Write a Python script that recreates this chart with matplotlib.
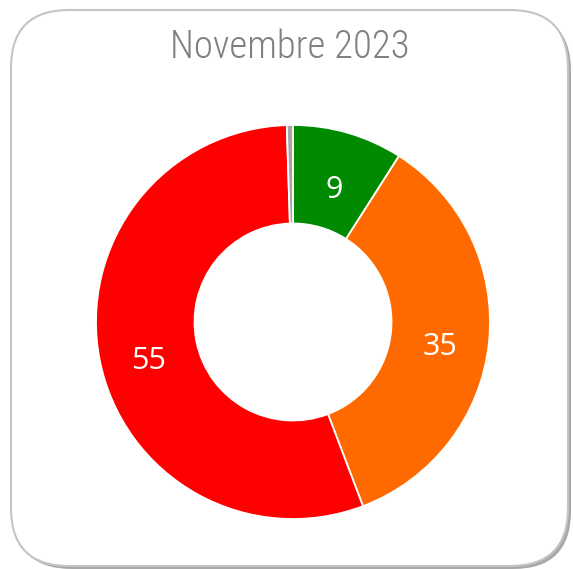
import numpy as np
import matplotlib
matplotlib.use('Agg')
import matplotlib.pyplot as plt
from matplotlib import font_manager
from matplotlib.patches import FancyBboxPatch

# données
title = 'Novembre 2023'
values = [9, 35, 55, 0.5]
labels = ['9', '35', '55', '']
colors = ['#008a00', '#ff6a00', '#ff0000', '#a6a6a6']

installed = {f.name for f in font_manager.fontManager.ttflist}
narrow = [n for n in ['Liberation Sans Narrow', 'Roboto Condensed', 'Open Sans Condensed',
                      'Noto Sans Condensed', 'DejaVu Sans Condensed', 'Roboto']
          if n in installed]
title_font = narrow[0] if narrow else 'DejaVu Sans'

W, H = 573, 569
fig = plt.figure(figsize=(W / 100, H / 100), dpi=100)

# fond : carte arrondie avec ombre (coordonnées en pixels)
bg = fig.add_axes([0, 0, 1, 1])
bg.set_xlim(0, W)
bg.set_ylim(H, 0)
bg.axis('off')
shadow = FancyBboxPatch((11 + 58 + 3, 10 + 58 + 3), 557 - 116, 556 - 116,
                        boxstyle='round,pad=58', facecolor='#a8a8a8',
                        edgecolor='none', zorder=1)
card = FancyBboxPatch((11 + 58, 10 + 58), 557 - 116, 556 - 116,
                      boxstyle='round,pad=58', facecolor='white',
                      edgecolor='#c4c4c4', linewidth=1.5, zorder=2)
bg.add_patch(shadow)
bg.add_patch(card)

t = bg.text(290, 47, title, ha='center', va='center', fontsize=30,
            color='#808080', family=[title_font, 'DejaVu Sans'],
            fontweight='light', zorder=3)

# ajuste la taille du titre pour une largeur d'environ 240 px
fig.canvas.draw()
w = t.get_window_extent().width
t.set_fontsize(min(34, 30 * 240 / w))

# anneau
cx, cy, r = 293, 322, 197
ax = fig.add_axes([(cx - r) / W, (H - cy - r) / H, 2 * r / W, 2 * r / H])
wedges, texts = ax.pie(values, labels=labels, colors=colors, startangle=90,
                       counterclock=False, radius=1, labeldistance=0.75,
                       wedgeprops=dict(width=0.5, edgecolor='white', linewidth=1.3),
                       textprops=dict(color='white', fontsize=22,
                                      family=['Open Sans', 'DejaVu Sans']))
for txt in texts:
    txt.set_ha('center')
    txt.set_va('center')
    x, y = txt.get_position()
    txt.set_position((x, y - 0.05))
ax.set_xlim(-1, 1)
ax.set_ylim(-1, 1)
ax.set_aspect('equal')
ax.axis('off')

fig.savefig('out.png', dpi=100)
